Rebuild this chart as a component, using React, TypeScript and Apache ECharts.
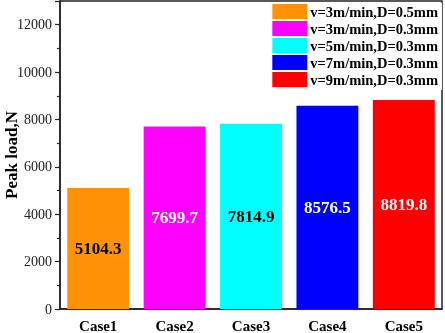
import React, { useEffect, useRef } from "react";
import * as echarts from "echarts";

const categories = ["Case1", "Case2", "Case3", "Case4", "Case5"];
const seriesNames = [
  "v=3m/min,D=0.5mm",
  "v=3m/min,D=0.3mm",
  "v=5m/min,D=0.3mm",
  "v=7m/min,D=0.3mm",
  "v=9m/min,D=0.3mm",
];
const values = [5104.3, 7699.7, 7814.9, 8576.5, 8819.8];
const colors = ["#FF9305", "#FF00FF", "#00FFFF", "#0000FF", "#FF0000"];
const labelColors = ["#000000", "#FFFFFF", "#000000", "#FFFFFF", "#FFFFFF"];

const FONT = "'Liberation Serif', 'Times New Roman', serif";

export default function App() {
  const ref = useRef<HTMLDivElement>(null);
  useEffect(() => {
    if (!ref.current) return;
    const chart = echarts.init(ref.current, null, { renderer: "svg" });
    const series = seriesNames.map((name, i) => ({
      name,
      type: "bar",
      stack: "all",
      barWidth: "81%",
      itemStyle: { color: colors[i] },
      label: {
        show: true,
        position: "inside",
        color: labelColors[i],
        fontFamily: FONT,
        fontWeight: "bold",
        fontSize: 17,
        formatter: (p: any) => p.value.toFixed(1),
      },
      data: categories.map((_, j) => (j === i ? values[i] : "-")),
    }));
    chart.setOption({
      animation: false,
      textStyle: { fontFamily: FONT },
      grid: {
        left: 60,
        right: 3,
        top: 1,
        bottom: 24,
        outerBoundsMode: "none",
        containLabel: false,
        show: true,
        borderColor: "#222",
        borderWidth: 1.5,
        backgroundColor: "transparent",
      },
      legend: {
        orient: "vertical",
        right: 3,
        top: 3,
        itemWidth: 35,
        itemHeight: 15,
        itemGap: 2,
        icon: "rect",
        padding: [1, 4, 3, 4],
        backgroundColor: "#fff",
        borderWidth: 0,
        textStyle: {
          fontFamily: FONT,
          fontWeight: "bold",
          fontSize: 14.5,
          color: "#000",
          padding: [0, 0, 0, -2],
        },
        data: seriesNames,
      },
      xAxis: {
        type: "category",
        data: categories,
        axisLine: { lineStyle: { color: "#222", width: 1.5 } },
        axisTick: { alignWithLabel: true, length: 5, lineStyle: { color: "#222", width: 1.2 } },
        axisLabel: {
          fontFamily: FONT,
          fontWeight: "bold",
          fontSize: 15,
          color: "#000",
          margin: 9,
        },
      },
      yAxis: {
        type: "value",
        min: 0,
        max: 13000,
        interval: 2000,
        name: "Peak load,N",
        nameLocation: "middle",
        nameGap: 40,
        nameMoveOverlap: false,
        nameTextStyle: {
          fontFamily: FONT,
          fontWeight: "bold",
          fontSize: 17,
          color: "#000",
        },
        axisLine: { show: true, lineStyle: { color: "#222", width: 1.5 } },
        axisTick: { show: true, length: 5, lineStyle: { color: "#222", width: 1.2 } },
        minorTick: { show: true, splitNumber: 2, length: 3, lineStyle: { color: "#222", width: 1.2 } },
        splitLine: { show: false },
        axisLabel: {
          fontFamily: FONT,
          fontSize: 14,
          color: "#222",
          margin: 8,
          showMaxLabel: false,
          formatter: (v: number) => String(v),
        },
      },
      series,
    });
    return () => chart.dispose();
  }, []);
  return <div ref={ref} style={{ width: 445, height: 333, position: "fixed", left: 0, top: 0 }} />;
}
